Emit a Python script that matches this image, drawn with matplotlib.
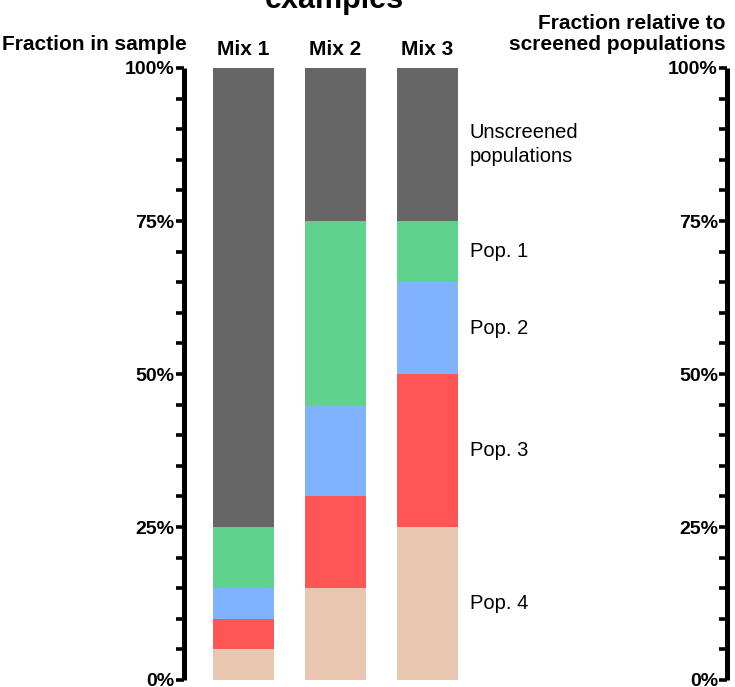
import matplotlib.pyplot as plt
from matplotlib.ticker import MultipleLocator

plt.rcParams['font.family'] = ['Liberation Sans', 'DejaVu Sans']

mixes = ['Mix 1', 'Mix 2', 'Mix 3']
segments = ['Pop. 4', 'Pop. 3', 'Pop. 2', 'Pop. 1', 'Unscreened\npopulations']
pop4 = [5, 15, 25]
pop3 = [5, 15, 25]
pop2 = [5, 15, 15]
pop1 = [10, 30, 10]
unscreened = [75, 25, 25]
colors = ['#e9c6af', '#ff5555', '#80b3ff', '#5fd38d', '#666666']
yticks = [0, 25, 50, 75, 100]
ytick_labels = ['0%', '25%', '50%', '75%', '100%']

W, H = 735, 687
fig = plt.figure(figsize=(W / 100, H / 100), dpi=100)

x0, x1, ytop, ybot = 183.5, 727, 68, 680
ax = fig.add_axes([x0 / W, 1 - ybot / H, (x1 - x0) / W, (ybot - ytop) / H])

step = 92.0
ax.set_xlim(-(243.5 - x0) / step, (x1 - 243.5) / step)
ax.set_ylim(0, 100)

xs = range(len(mixes))
bottom = [0, 0, 0]
for vals, col, name in zip([pop4, pop3, pop2, pop1, unscreened], colors, segments):
    ax.bar(xs, vals, width=61 / step, bottom=bottom, color=col, linewidth=0)
    # label next to the last bar, centred on its segment
    ax.text(2 + 0.46, bottom[2] + vals[2] / 2, name, fontsize=14.5,
            ha='left', va='center', linespacing=1.3)
    bottom = [b + v for b, v in zip(bottom, vals)]

for i, m in enumerate(mixes):
    ax.text(i, 100 + 13 / 6.12, m, fontsize=15, fontweight='bold',
            ha='center', va='baseline')

ax2 = fig.add_axes([x1 / W, 1 - ybot / H, 0.0001, (ybot - ytop) / H])
ax2.set_ylim(0, 100)

for a in (ax, ax2):
    for s in ['top', 'right', 'bottom']:
        a.spines[s].set_visible(False)
    a.spines['left'].set_linewidth(3.6)
    a.spines['left'].set_capstyle('butt')
    a.set_xticks([])
    a.set_yticks(yticks, ytick_labels, fontsize=14, fontweight='bold')
    a.yaxis.set_minor_locator(MultipleLocator(5))
    a.tick_params(axis='y', which='both', length=5.5, width=2.6, direction='out', pad=1)
    a.patch.set_visible(False)

fig.text(187 / W, 1 - 50 / H, 'Fraction in sample', fontsize=15, fontweight='bold',
         ha='right', va='baseline')
fig.text(726 / W, 1 - 50 / H, 'Fraction relative to\nscreened populations', fontsize=15,
         fontweight='bold', ha='right', va='baseline', multialignment='right',
         linespacing=1.15)
fig.text(334 / W, 1 - 8 / H, 'examples', fontsize=22, fontweight='bold',
         ha='center', va='baseline')

fig.savefig('out.png', dpi=100)
